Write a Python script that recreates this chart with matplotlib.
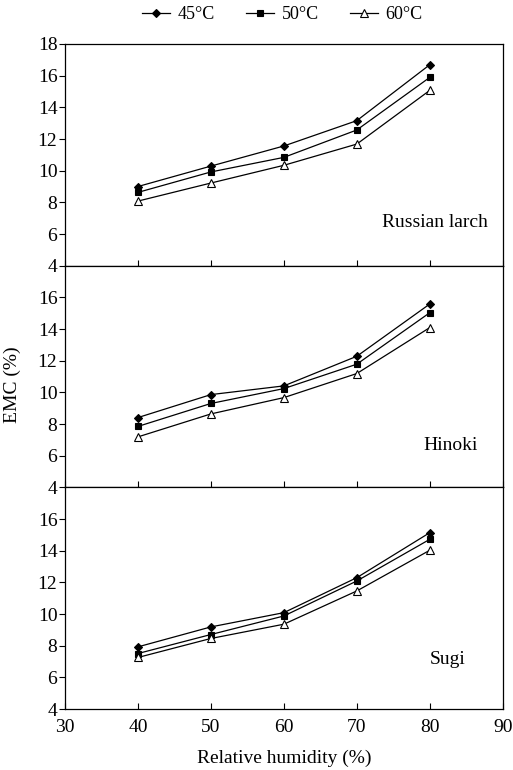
import matplotlib
matplotlib.use('Agg')
import matplotlib.pyplot as plt

plt.rcParams['font.family'] = ['Liberation Serif', 'DejaVu Serif']
plt.rcParams['font.size'] = 14

rh = [40, 50, 60, 70, 80]
temps = ['45°C', '50°C', '60°C']
species = ['Russian larch', 'Hinoki', 'Sugi']

larch_45 = [9.0, 10.29, 11.56, 13.16, 16.69]
larch_50 = [8.63, 9.92, 10.84, 12.57, 15.89]
larch_60 = [8.08, 9.22, 10.34, 11.68, 15.07]

hinoki_45 = [8.41, 9.86, 10.41, 12.28, 15.58]
hinoki_50 = [7.85, 9.30, 10.24, 11.78, 15.03]
hinoki_60 = [7.19, 8.64, 9.67, 11.19, 14.09]

sugi_45 = [7.93, 9.19, 10.09, 12.30, 15.14]
sugi_50 = [7.51, 8.71, 9.88, 12.09, 14.72]
sugi_60 = [7.26, 8.46, 9.36, 11.46, 14.03]

data = [[larch_45, larch_50, larch_60],
        [hinoki_45, hinoki_50, hinoki_60],
        [sugi_45, sugi_50, sugi_60]]

# label centres (data coords)
label_x = [80.7, 82.8, 82.4]
label_y = [6.7, 6.67, 7.15]

markers = [dict(marker='D', markersize=4.0, markerfacecolor='black'),
           dict(marker='s', markersize=4.8, markerfacecolor='black'),
           dict(marker='^', markersize=5.5, markerfacecolor='white')]

fig = plt.figure(figsize=(5.13, 7.70), dpi=100)
left, width = 65 / 513, 437.7 / 513
top, h = 1 - 44 / 770, 221.7 / 770

axes = []
for i in range(3):
    ax = fig.add_axes([left, top - (i + 1) * h, width, h])
    axes.append(ax)
    for j in range(3):
        ax.plot(rh, data[i][j], color='black', linewidth=0.9,
                markeredgecolor='black', markeredgewidth=0.8,
                label=temps[j], **markers[j])
    ax.set_xlim(30, 90)
    ax.set_ylim(4, 18)
    ax.set_xticks([30, 40, 50, 60, 70, 80, 90])
    if i == 0:
        ax.set_yticks([4, 6, 8, 10, 12, 14, 16, 18])
    else:
        ax.set_yticks([4, 6, 8, 10, 12, 14, 16])
    ax.tick_params(axis='x', direction='in', length=4, width=0.8, pad=7)
    ax.tick_params(axis='y', direction='out', length=4, width=0.8, pad=1.5)
    if i < 2:
        ax.tick_params(axis='x', labelbottom=False)
    for s in ax.spines.values():
        s.set_linewidth(0.9)
    ax.text(label_x[i], label_y[i], species[i], ha='center', va='center',
            fontsize=14)

axes[2].set_xlabel('Relative humidity (%)', labelpad=10)
fig.text(0.025, 0.5, 'EMC (%)', rotation=90, ha='center', va='center',
         fontsize=14)

handles, labels = axes[0].get_legend_handles_labels()
fig.legend(handles, labels, loc='center', bbox_to_anchor=(0.55, 0.981),
           ncol=3, frameon=False, handlelength=1.6, handletextpad=0.4,
           columnspacing=1.7, fontsize=13)

fig.savefig('out.png', dpi=100)
